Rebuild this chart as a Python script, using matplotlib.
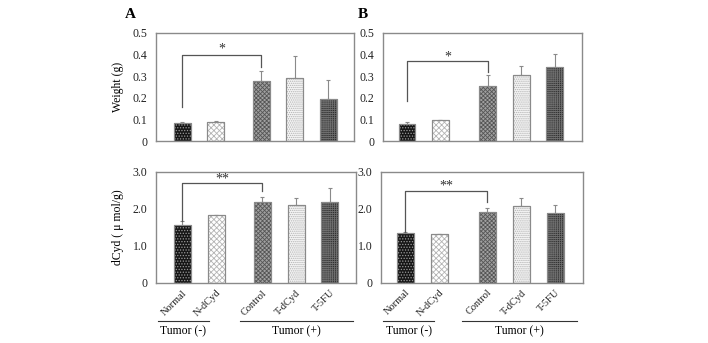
import matplotlib
matplotlib.use("Agg")
import matplotlib.pyplot as plt
import numpy as np

plt.rcParams['font.family'] = ['Liberation Serif', 'DejaVu Serif']
plt.rcParams['hatch.linewidth'] = 0.6

groups = ["Normal", "N-dCyd", "Control", "T-dCyd", "T-5FU"]

weight_A = [0.085, 0.087, 0.276, 0.290, 0.196]
weight_A_err = [0.003, 0.004, 0.048, 0.105, 0.085]
weight_B = [0.080, 0.096, 0.255, 0.307, 0.341]
weight_B_err = [0.008, 0.0, 0.049, 0.039, 0.062]

dcyd_A = [1.57, 1.83, 2.19, 2.10, 2.20]
dcyd_A_err = [0.10, 0.01, 0.13, 0.19, 0.37]
dcyd_B = [1.34, 1.31, 1.92, 2.09, 1.90]
dcyd_B_err = [0.03, 0.0, 0.11, 0.21, 0.21]

W, H = 708, 343
fig = plt.figure(figsize=(W / 100, H / 100), dpi=100)

def ax_px(l, r, t, b):
    return fig.add_axes([l / W, (H - b) / H, (r - l) / W, (b - t) / H])

faces = ['#161616', '#ffffff', '#a0a0a0', '#f4f4f4', '#2e2e2e']
hatches = ['......', 'xxxxxx', 'xxxxxxxx', '........', '++++++++']
hcols = ['#9a9a9a', '#b4b4b4', '#555555', '#b0b0b0', '#6e6e6e']

def draw(ax, pos, vals, errs, ymax, yticks, yticklabels, xlim, labels=False):
    ax.bar(pos, vals, width=0.5, color=faces, edgecolor='#8a8a8a', linewidth=0.8, zorder=2)
    for p, v, h, hc in zip(pos, vals, hatches, hcols):
        ax.bar([p], [v], width=0.5, facecolor='none', edgecolor=hc, hatch=h, linewidth=0, zorder=3)
    ax.bar(pos, vals, width=0.5, facecolor='none', edgecolor='#8a8a8a', linewidth=0.8, zorder=4)
    ax.errorbar(pos, vals, yerr=[np.zeros(len(errs)), errs], fmt='none', ecolor='#8a8a8a',
                elinewidth=0.8, capsize=1.5, capthick=0.8, zorder=1)
    ax.set_ylim(0, ymax)
    ax.set_xlim(*xlim)
    ax.set_yticks(yticks)
    ax.set_yticklabels(yticklabels, fontsize=8.5, color='#222222')
    ax.tick_params(axis='y', length=0, pad=6)
    ax.tick_params(axis='x', length=0)
    for s in ax.spines.values():
        s.set_color('#8a8a8a')
        s.set_linewidth(1.0)
    if labels:
        ax.set_xticks(pos)
        ax.set_xticklabels(groups, rotation=45, ha='right', va='top', rotation_mode='anchor',
                           fontsize=7.5, color='#222222')
        ax.tick_params(axis='x', pad=4)
    else:
        ax.set_xticks([])

def bracket(ax, x0, x1, yh, yl, yr, text, ty):
    ax.plot([x0, x0, x1, x1], [yl, yh, yh, yr], color='#555555', lw=0.9, zorder=5)
    ax.text((x0 + x1) / 2, ty, text, ha='center', va='center', fontsize=10, color='#333333')

posA = [0, 1, 2.36, 3.36, 4.36]
posB = [0, 1, 2.42, 3.42, 4.42]

axA1 = ax_px(155.7, 354, 33, 141)
draw(axA1, posA, weight_A, weight_A_err, 0.5, [0, 0.1, 0.2, 0.3, 0.4, 0.5],
     ['0', '0.1', '0.2', '0.3', '0.4', '0.5'], (-0.79, 5.13))
axA1.set_ylabel('Weight (g)', fontsize=8.5, labelpad=6)
bracket(axA1, posA[0], posA[2], 0.40, 0.159, 0.344, '*', 0.425)

axB1 = ax_px(383, 582, 33, 141)
draw(axB1, posB, weight_B, weight_B_err, 0.5, [0, 0.1, 0.2, 0.3, 0.4, 0.5],
     ['0', '0.1', '0.2', '0.3', '0.4', '0.5'], (-0.72, 5.24))
bracket(axB1, posB[0], posB[2], 0.369, 0.187, 0.319, '*', 0.39)

axA2 = ax_px(155.7, 356, 172, 282.7)
draw(axA2, posA, dcyd_A, dcyd_A_err, 3.0, [0, 1, 2, 3], ['0', '1.0', '2.0', '3.0'],
     (-0.79, 5.13), labels=True)
axA2.set_ylabel('dCyd ( \u03bc mol/g)', fontsize=8.5, labelpad=6)
bracket(axA2, posA[0], posA[2], 2.69, 1.67, 2.49, '**', 2.80)

axB2 = ax_px(381, 583, 172, 282.5)
draw(axB2, posB, dcyd_B, dcyd_B_err, 3.0, [0, 1, 2, 3], ['0', '1.0', '2.0', '3.0'],
     (-0.72, 5.24), labels=True)
bracket(axB2, posB[0], posB[2], 2.49, 1.37, 2.19, '**', 2.61)

fig.text(130 / W, 1 - 15 / H, 'A', fontsize=11, fontweight='bold', ha='center', va='center')
fig.text(363 / W, 1 - 15 / H, 'B', fontsize=11, fontweight='bold', ha='center', va='center')

def grp_line(x0, x1, y, label, ty):
    fig.add_artist(plt.Line2D([x0 / W, x1 / W], [1 - y / H, 1 - y / H], color='#333333', lw=0.8))
    fig.text((x0 + x1) / 2 / W, 1 - ty / H, label, fontsize=8.5, ha='center', va='center')

grp_line(158, 209, 320.7, 'Tumor (-)', 331.5)
grp_line(240, 353, 320.7, 'Tumor (+)', 331.5)
grp_line(383, 434, 320.7, 'Tumor (-)', 331.5)
grp_line(462, 577, 320.7, 'Tumor (+)', 331.5)

fig.savefig('out.png', dpi=100)
